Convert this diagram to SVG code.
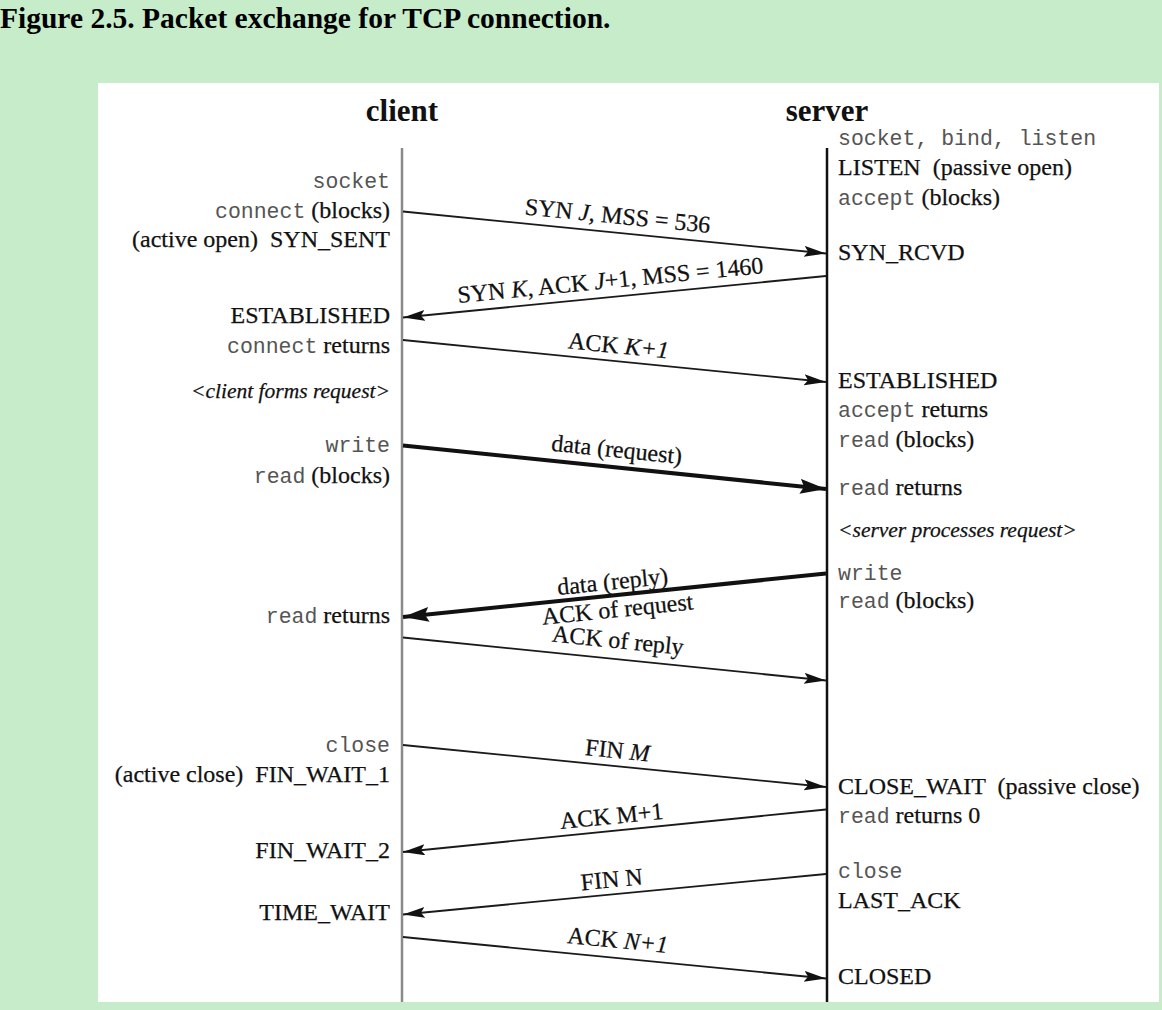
<svg xmlns="http://www.w3.org/2000/svg" width="1162" height="1010" viewBox="0 0 1162 1010">
<style>
.s{font-family:"Liberation Serif",serif;font-size:24px;fill:#111;stroke:#111;stroke-width:0.25;white-space:pre}
.m{font-family:"Liberation Mono",monospace;font-size:21.5px;fill:#555;stroke:none}
.it{font-style:italic}
.sm{font-size:21.5px}
.h{font-family:"Liberation Serif",serif;font-size:31px;font-weight:bold;fill:#111}
.r{text-anchor:end}
.c{text-anchor:middle}
.ln{stroke:#1a1a1a;stroke-width:1.8;fill:none}
.th{stroke:#111;stroke-width:4;fill:none}
</style>
<defs>
<marker id="ah" markerUnits="userSpaceOnUse" markerWidth="24" markerHeight="12" refX="22" refY="5.5" orient="auto">
<path d="M0,0 L22,5.5 L0,11 L4,5.5 z" fill="#111"/>
</marker>
<marker id="ahb" markerUnits="userSpaceOnUse" markerWidth="28" markerHeight="16" refX="26" refY="7.5" orient="auto">
<path d="M0,0 L26,7.5 L0,15 L4,7.5 z" fill="#111"/>
</marker>
</defs>
<rect x="0" y="0" width="1162" height="1010" fill="#c6ecca"/>
<text x="0" y="28" font-family="Liberation Serif, serif" font-size="29.5" font-weight="bold" fill="#000">Figure 2.5. Packet exchange for TCP connection.</text>
<rect x="98" y="83" width="1061" height="919" fill="#fff"/>

<g id="client">
<text class="h c" x="402" y="121">client</text>
<line x1="402" y1="148" x2="402" y2="1002" stroke="#8a8a8a" stroke-width="2.5"/>
</g>
<g id="server">
<text class="h c" x="827" y="121">server</text>
<line x1="827" y1="148" x2="827" y2="1002" stroke="#111" stroke-width="2.5"/>
</g>

<g id="client-labels">
<text class="m r" x="390" y="188">socket</text>
<text class="s r" x="390" y="218"><tspan class="m">connect</tspan> (blocks)</text>
<text class="s r" x="390" y="247">(active open)  SYN_SENT</text>
<text class="s r" x="390" y="323">ESTABLISHED</text>
<text class="s r" x="390" y="353"><tspan class="m">connect</tspan> returns</text>
<text class="s it sm r" x="390" y="398">&lt;client forms request&gt;</text>
<text class="m r" x="390" y="452">write</text>
<text class="s r" x="390" y="483"><tspan class="m">read</tspan> (blocks)</text>
<text class="s r" x="390" y="623"><tspan class="m">read</tspan> returns</text>
<text class="m r" x="390" y="752">close</text>
<text class="s r" x="390" y="782">(active close)  FIN_WAIT_1</text>
<text class="s r" x="390" y="858">FIN_WAIT_2</text>
<text class="s r" x="390" y="920">TIME_WAIT</text>
</g>

<g id="server-labels">
<text class="m" x="838" y="145">socket, bind, listen</text>
<text class="s" x="838" y="175">LISTEN  (passive open)</text>
<text class="s" x="838" y="205"><tspan class="m">accept</tspan> (blocks)</text>
<text class="s" x="838" y="260">SYN_RCVD</text>
<text class="s" x="838" y="388">ESTABLISHED</text>
<text class="s" x="838" y="417"><tspan class="m">accept</tspan> returns</text>
<text class="s" x="838" y="447"><tspan class="m">read</tspan> (blocks)</text>
<text class="s" x="838" y="495"><tspan class="m">read</tspan> returns</text>
<text class="s it sm" x="838" y="537">&lt;server processes request&gt;</text>
<text class="m" x="838" y="580">write</text>
<text class="s" x="838" y="608"><tspan class="m">read</tspan> (blocks)</text>
<text class="s" x="838" y="794">CLOSE_WAIT  (passive close)</text>
<text class="s" x="838" y="823"><tspan class="m">read</tspan> returns 0</text>
<text class="m" x="838" y="878">close</text>
<text class="s" x="838" y="908">LAST_ACK</text>
<text class="s" x="838" y="984">CLOSED</text>
</g>

<g id="connectors">
<line class="ln" x1="403" y1="211.5" x2="826" y2="253.5" marker-end="url(#ah)"/>
<line class="ln" x1="826" y1="276" x2="403" y2="317.5" marker-end="url(#ah)"/>
<line class="ln" x1="403" y1="340" x2="826" y2="382" marker-end="url(#ah)"/>
<line class="th" x1="403" y1="445.5" x2="826" y2="489" marker-end="url(#ahb)"/>
<line class="th" x1="826" y1="573.5" x2="403" y2="617" marker-end="url(#ahb)"/>
<line class="ln" x1="403" y1="637.5" x2="826" y2="680.5" marker-end="url(#ah)"/>
<line class="ln" x1="403" y1="745" x2="826" y2="787" marker-end="url(#ah)"/>
<line class="ln" x1="826" y1="809.5" x2="403" y2="852" marker-end="url(#ah)"/>
<line class="ln" x1="826" y1="874" x2="403" y2="914.5" marker-end="url(#ah)"/>
<line class="ln" x1="403" y1="937" x2="826" y2="978.5" marker-end="url(#ah)"/>
</g>

<g id="connector-labels">
<text class="s c" transform="translate(616,232.6) rotate(5.67)" y="-9">SYN <tspan class="it">J</tspan>, MSS = 536</text>
<text class="s c" transform="translate(612,297) rotate(-5.6)" y="-9">SYN <tspan class="it">K</tspan>, ACK <tspan class="it">J</tspan>+1, MSS = 1460</text>
<text class="s c" transform="translate(617,361.3) rotate(5.67)" y="-8">ACK <tspan class="it">K+1</tspan></text>
<text class="s c" transform="translate(615,467.3) rotate(5.87)" y="-10">data (request)</text>
<text class="s c" transform="translate(614,595.4) rotate(-5.87)" y="-6">data (reply)</text>
<text class="s c" transform="translate(616,595.2) rotate(-5.87)" y="22">ACK of request</text>
<text class="s c" transform="translate(616,659.2) rotate(5.8)" y="-11">ACK of reply</text>
<text class="s c" transform="translate(616,766.2) rotate(5.67)" y="-8">FIN <tspan class="it">M</tspan></text>
<text class="s c" transform="translate(613,830.9) rotate(-5.7)" y="-7">ACK M+1</text>
<text class="s c" transform="translate(613,894.4) rotate(-5.5)" y="-7">FIN N</text>
<text class="s c" transform="translate(616,957.9) rotate(5.6)" y="-10">ACK <tspan class="it">N+1</tspan></text>
</g>
</svg>
